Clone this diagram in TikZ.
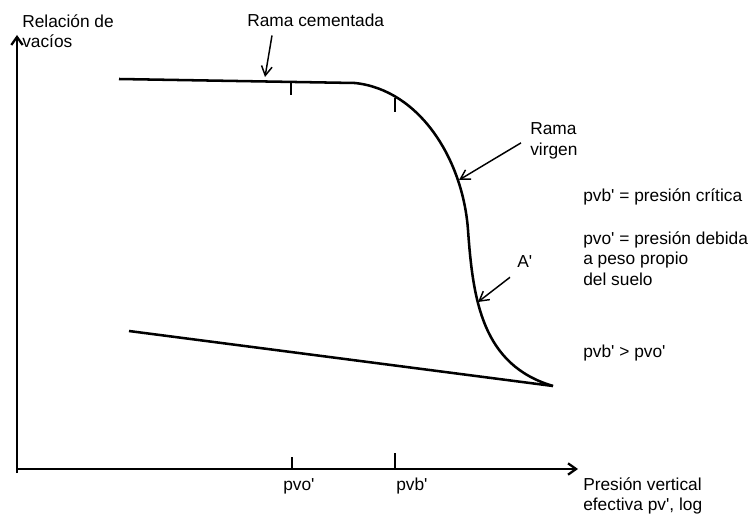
\documentclass[tikz,border=0pt]{standalone}
\usepackage{fontspec}
\setmainfont{Liberation Sans}[Ligatures=TeXOff]
\usetikzlibrary{arrows.meta}

\begin{document}
\begin{tikzpicture}[x=0.75pt,y=-0.75pt,
  eje/.style={line width=1.7pt,-{Straight Barb[length=6pt,width=8.5pt]}},
  curva/.style={line width=1.9pt},
  marca/.style={line width=0.8pt},
  flecha/.style={line width=1.1pt,-{Straight Barb[length=7pt,width=8pt]}},
  texto/.style={inner sep=0pt,font=\fontsize{13}{15.5}\selectfont}]
  \useasboundingbox (0,0) rectangle (752,517);

  % ejes
  \draw[eje] (17,473) -- (17,35);
  \draw[eje] (17,469) -- (578,469);
  \draw[marca] (292,469) -- (292,457);
  \draw[marca] (395,469) -- (395,453);

  % curva de compresibilidad
  \draw[curva] (119,79) -- (355,83) .. controls (420,90) and (463,160) .. (468,230)
    .. controls (473,300) and (482,365) .. (553,386);
  \draw[curva] (129,331) -- (553,386);
  \draw[marca] (291,83) -- (291,95);
  \draw[marca] (395,98) -- (395,112);

  \coordinate (hcem) at (265,77);
  \coordinate (hvir) at (459,180);
  \coordinate (hap) at (478,302);

  \node[texto,anchor=north west,align=left] (ylab) at (22,14) {Relación de\\vacíos};
  \node[texto,anchor=north west,align=left] (xlab) at (583,477) {Presión vertical\\efectiva pv', log};
  \node[texto,anchor=base west] (pvo) at (283,490) {pvo'};
  \node[texto,anchor=base west] (pvb) at (396,490) {pvb'};

  \node[texto,anchor=base west] (cementada) at (247,27) {Rama cementada};
  \node[texto,anchor=north west,align=left] (virgen) at (530,122.5) {Rama\\virgen};
  \node[texto,anchor=base west] (aprima) at (517,267) {A'};

  \node[texto,anchor=base west] (critica) at (583,201) {pvb' = presión crítica};
  \node[texto,anchor=north west,align=left] (debida) at (583,231) {pvo' = presión debida\\a peso propio\\del suelo};
  \node[texto,anchor=base west] (mayor) at (583,357) {pvb' > pvo'};

  \draw[flecha] ([xshift=18.75pt,yshift=-6pt]cementada.south west) -- (hcem);
  \draw[flecha] ([xshift=-6.75pt,yshift=-1.5pt]virgen.west) -- (hvir);
  \draw[flecha] ([xshift=-5.25pt,yshift=-7.5pt]aprima.south west) -- (hap);
\end{tikzpicture}
\end{document}
